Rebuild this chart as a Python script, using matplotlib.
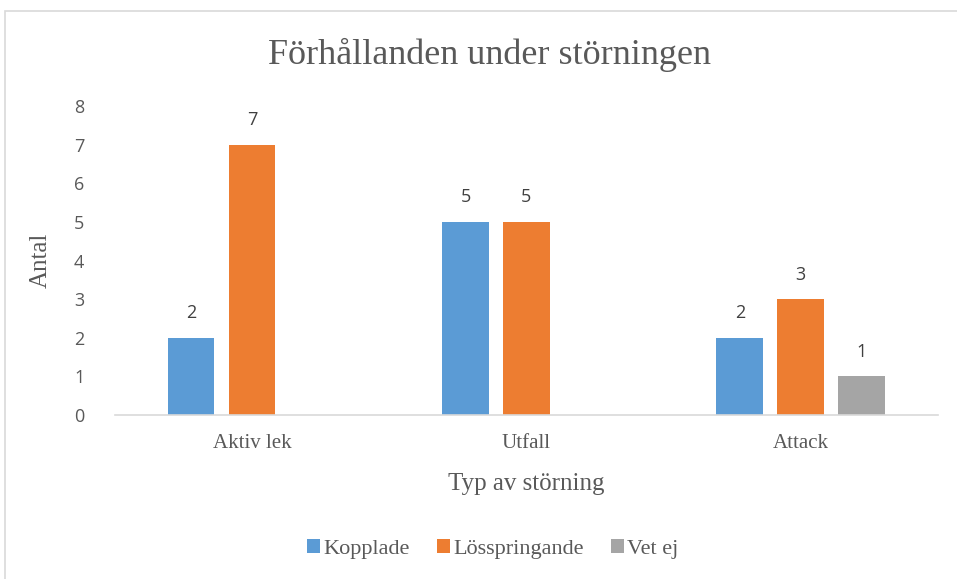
import matplotlib.pyplot as plt
import numpy as np
from matplotlib.patches import Rectangle

# Data
categories = ['Aktiv lek', 'Utfall', 'Attack']
series_names = ['Kopplade', 'Lösspringande', 'Vet ej']
kopplade = [2, 5, 2]
losspringande = [7, 5, 3]
vet_ej = [0, 0, 1]
y_ticks = [0, 1, 2, 3, 4, 5, 6, 7, 8]

colors = ['#5b9bd5', '#ed7d31', '#a5a5a5']
serif = 'Liberation Serif'
sans = 'Open Sans'

fig = plt.figure(figsize=(9.57, 5.79), dpi=100)
ax = fig.add_axes([0.120, 0.2832, 0.860, 0.5337])

# chart frame (cropped on right and bottom)
fig.patches.append(Rectangle((5 / 957, -0.1), 1.2, 1 - 11 / 579 + 0.1,
                             transform=fig.transFigure, fill=False,
                             edgecolor='#d9d9d9', linewidth=1.2))

x = np.arange(len(categories))
width = 0.17
step = 0.222
all_series = [kopplade, losspringande, vet_ej]
for i, (vals, name) in enumerate(zip(all_series, series_names)):
    pos = x + (i - 1) * step
    # hide empty "Vet ej" bars but keep legend entry
    show = [v > 0 for v in vals]
    ax.bar(pos[show], np.array(vals)[show], width, color=colors[i], label=name)
    for p, v in zip(pos[show], np.array(vals)[show]):
        ax.text(p, v + 0.4, str(v), ha='center', va='bottom', fontsize=13,
                family=sans, color='#404040')

ax.set_xlim(-0.5, 2.5)
ax.set_ylim(0, 8)
ax.set_yticks(y_ticks)
ax.set_yticklabels([str(t) for t in y_ticks], family=sans, fontsize=13, color='#595959')
ax.set_xticks(x)
ax.set_xticklabels(categories, family=serif, fontsize=15, color='#595959')
ax.tick_params(axis='both', length=0)
ax.tick_params(axis='x', pad=14)
ax.tick_params(axis='y', pad=22)
for s in ['top', 'right', 'left']:
    ax.spines[s].set_visible(False)
ax.spines['bottom'].set_color('#d9d9d9')
ax.spines['bottom'].set_linewidth(1.2)

ax.set_ylabel('Antal', family=serif, fontsize=18, color='#595959', labelpad=16)
ax.set_xlabel('Typ av störning', family=serif, fontsize=18, color='#595959', labelpad=14)
fig.text(0.511, 0.905, 'Förhållanden under störningen', ha='center', va='center',
         family=serif, fontsize=26, color='#595959')

leg = fig.legend(loc='center', bbox_to_anchor=(0.515, 0.052), ncol=3, frameon=False,
                 prop={'family': serif, 'size': 16}, handlelength=0.6, handleheight=0.6,
                 handletextpad=0.15, columnspacing=1.2)
for t in leg.get_texts():
    t.set_color('#595959')

fig.savefig('out.png', dpi=100)
